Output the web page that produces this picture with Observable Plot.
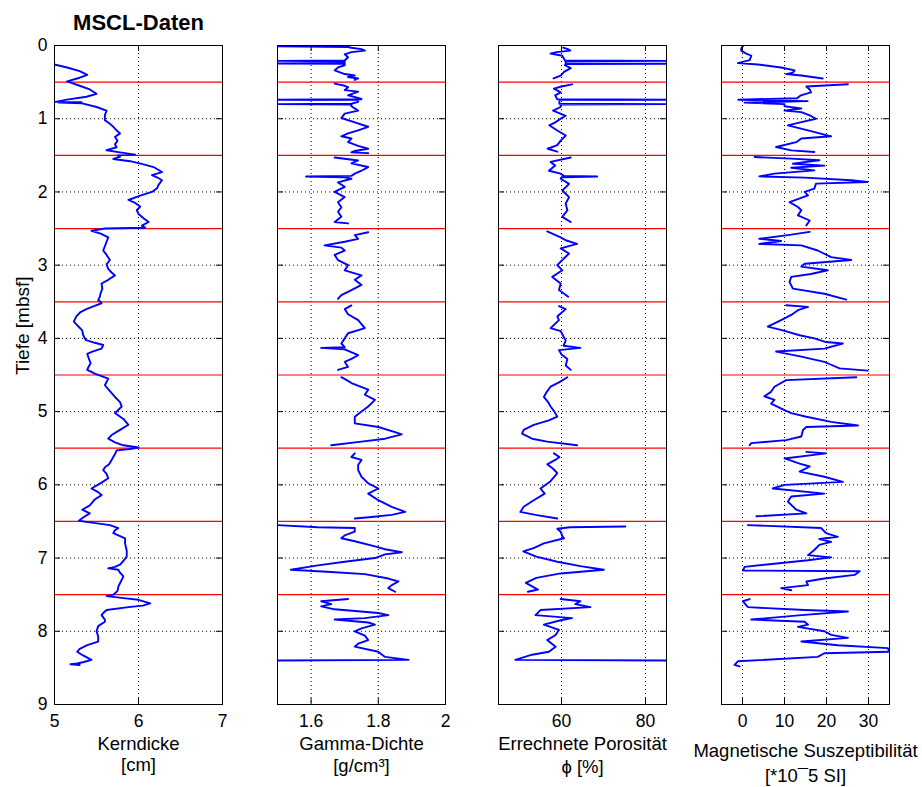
<!DOCTYPE html>
<html><head><meta charset="utf-8">
<script src="https://cdn.jsdelivr.net/npm/d3@7"></script>
<script src="https://cdn.jsdelivr.net/npm/@observablehq/plot@0.6"></script>
<style>
body{margin:0;background:#fff;overflow:hidden}
#chart{position:relative;width:922px;height:787px;font-family:"Liberation Sans",Arial,sans-serif}
#chart svg{position:absolute;top:0}
</style></head><body><div id="chart"></div>
<script>
// ---- data ----
const title = "MSCL-Daten";
const yLabel = "Tiefe [mbsf]";
const depthTicks = [0,1,2,3,4,5,6,7,8,9];
const depthGrid = [1,2,3,4,5,6,7,8];
const sectionBreaks = [0.5,1.5,2.5,3.5,4.5,5.5,6.5,7.5];

// [depth (mbsf), value]
const kerndicke = [[0.26,5.00],[0.30,5.15],[0.35,5.30],[0.40,5.39],[0.44,5.30],[0.49,5.15],[0.55,5.30],[0.60,5.42],[0.66,5.50],[0.70,5.38],[0.74,5.15],[0.77,5.01],[0.775,5.32],[0.78,5.05],[0.79,5.33],[0.84,5.50],[0.89,5.62],[0.95,5.60],[1.02,5.60],[1.07,5.66],[1.11,5.70],[1.16,5.74],[1.20,5.78],[1.25,5.72],[1.30,5.75],[1.35,5.72],[1.39,5.74],[1.43,5.62],[1.46,5.78],[1.49,5.96],[1.50,5.75],[1.52,5.78],[1.55,5.70],[1.58,5.90],[1.62,6.05],[1.66,6.18],[1.70,6.24],[1.73,6.28],[1.77,6.16],[1.80,6.22],[1.84,6.28],[1.90,6.24],[1.95,6.22],[2.00,6.16],[2.05,6.02],[2.11,5.88],[2.15,5.96],[2.20,6.02],[2.25,5.98],[2.30,6.00],[2.36,6.06],[2.41,6.12],[2.46,6.04],[2.49,6.08],[2.50,5.60],[2.53,5.44],[2.57,5.55],[2.62,5.64],[2.68,5.62],[2.74,5.60],[2.80,5.58],[2.86,5.62],[2.93,5.66],[2.99,5.62],[3.05,5.64],[3.10,5.68],[3.14,5.72],[3.20,5.64],[3.25,5.56],[3.32,5.57],[3.38,5.55],[3.43,5.54],[3.48,5.52],[3.50,5.55],[3.52,5.56],[3.56,5.47],[3.60,5.38],[3.64,5.31],[3.70,5.26],[3.77,5.23],[3.82,5.27],[3.89,5.33],[3.95,5.34],[4.02,5.37],[4.06,5.48],[4.09,5.58],[4.14,5.56],[4.18,5.45],[4.21,5.39],[4.28,5.41],[4.34,5.43],[4.40,5.40],[4.43,5.39],[4.48,5.48],[4.55,5.64],[4.64,5.60],[4.72,5.66],[4.80,5.72],[4.87,5.78],[4.93,5.80],[5.02,5.72],[5.10,5.82],[5.18,5.88],[5.25,5.78],[5.32,5.68],[5.37,5.64],[5.42,5.72],[5.46,5.82],[5.49,6.00],[5.51,5.90],[5.53,5.74],[5.58,5.72],[5.62,5.70],[5.66,5.68],[5.72,5.65],[5.76,5.60],[5.80,5.58],[5.85,5.62],[5.91,5.64],[5.97,5.56],[6.05,5.44],[6.10,5.52],[6.14,5.56],[6.20,5.48],[6.28,5.42],[6.34,5.33],[6.39,5.42],[6.44,5.35],[6.49,5.29],[6.51,5.40],[6.55,5.66],[6.59,5.76],[6.62,5.72],[6.66,5.70],[6.73,5.84],[6.80,5.84],[6.90,5.86],[6.98,5.86],[7.04,5.82],[7.09,5.78],[7.12,5.72],[7.14,5.64],[7.16,5.76],[7.20,5.78],[7.25,5.82],[7.32,5.79],[7.39,5.76],[7.45,5.75],[7.50,5.70],[7.52,5.62],[7.55,5.85],[7.57,6.00],[7.62,6.14],[7.65,6.05],[7.67,5.88],[7.71,5.62],[7.75,5.58],[7.78,5.56],[7.84,5.60],[7.87,5.60],[7.93,5.52],[8.00,5.50],[8.07,5.52],[8.14,5.52],[8.19,5.39],[8.24,5.30],[8.28,5.27],[8.33,5.34],[8.39,5.44],[8.42,5.35],[8.44,5.27],[8.45,5.19],[8.46,5.30]];

const gammaDichte = [[0.005,1.50],[0.012,1.50],[0.02,1.71],[0.03,1.72],[0.05,1.75],[0.07,1.76],[0.09,1.72],[0.12,1.70],[0.16,1.71],[0.205,1.70],[0.21,1.50],[0.215,1.70],[0.24,1.70],[0.245,1.50],[0.25,1.70],[0.27,1.70],[0.30,1.68],[0.34,1.67],[0.39,1.70],[0.41,1.73],[0.43,1.71],[0.45,1.74],[0.47,1.73],
[0.52,1.67],[0.55,1.70],[0.57,1.71],[0.61,1.70],[0.63,1.74],[0.68,1.71],[0.73,1.75],[0.735,1.75],[0.74,1.50],[0.745,1.74],[0.77,1.74],[0.795,1.72],[0.80,1.50],[0.805,1.72],[0.83,1.72],[0.89,1.74],[0.93,1.70],[0.99,1.69],[1.05,1.73],[1.11,1.77],[1.16,1.74],[1.20,1.71],[1.24,1.69],[1.27,1.72],[1.32,1.71],[1.37,1.74],[1.41,1.77],[1.44,1.73],[1.46,1.72],[1.47,1.77],
[1.53,1.67],[1.57,1.74],[1.61,1.72],[1.66,1.77],[1.71,1.75],[1.75,1.73],[1.78,1.72],[1.79,1.585],[1.80,1.70],[1.82,1.72],[1.87,1.68],[1.93,1.70],[2.00,1.67],[2.07,1.70],[2.14,1.68],[2.21,1.69],[2.27,1.68],[2.34,1.69],[2.41,1.67],[2.43,1.71],
[2.55,1.77],[2.59,1.73],[2.64,1.74],[2.68,1.70],[2.73,1.64],[2.76,1.69],[2.80,1.70],[2.86,1.67],[2.93,1.68],[3.00,1.71],[3.07,1.70],[3.14,1.75],[3.20,1.73],[3.27,1.75],[3.34,1.72],[3.41,1.69],[3.46,1.68],
[3.55,1.72],[3.60,1.70],[3.67,1.71],[3.75,1.74],[3.86,1.76],[3.93,1.71],[4.00,1.70],[4.07,1.69],[4.12,1.70],[4.13,1.63],[4.15,1.70],[4.23,1.74],[4.28,1.72],[4.32,1.70],[4.39,1.71],[4.43,1.68],
[4.53,1.69],[4.58,1.71],[4.61,1.72],[4.70,1.77],[4.77,1.76],[4.84,1.79],[4.93,1.77],[5.00,1.75],[5.07,1.73],[5.16,1.73],[5.21,1.80],[5.28,1.85],[5.31,1.87],[5.37,1.82],[5.41,1.75],[5.46,1.66],
[5.57,1.73],[5.62,1.72],[5.66,1.75],[5.73,1.74],[5.80,1.74],[5.89,1.75],[5.98,1.77],[6.05,1.80],[6.12,1.77],[6.21,1.80],[6.30,1.84],[6.37,1.88],[6.41,1.84],[6.44,1.78],[6.46,1.73],
[6.55,1.50],[6.58,1.62],[6.59,1.73],[6.64,1.73],[6.69,1.70],[6.73,1.69],[6.77,1.73],[6.84,1.79],[6.88,1.82],[6.92,1.87],[6.95,1.82],[7.00,1.79],[7.05,1.70],[7.10,1.62],[7.16,1.54],[7.19,1.66],[7.22,1.76],[7.28,1.83],[7.32,1.86],[7.37,1.84],[7.41,1.83],[7.46,1.85],
[7.56,1.71],[7.59,1.63],[7.63,1.66],[7.66,1.63],[7.70,1.67],[7.75,1.80],[7.78,1.83],[7.82,1.76],[7.84,1.67],[7.88,1.77],[7.91,1.79],[7.96,1.75],[8.00,1.73],[8.06,1.76],[8.12,1.77],[8.17,1.74],[8.21,1.73],[8.28,1.80],[8.35,1.82],[8.39,1.89],[8.40,1.50]];

const porositaet = [[0.03,60.4],[0.05,61.5],[0.07,62.1],[0.09,58.8],[0.11,57.4],[0.14,60.2],[0.18,60.6],[0.205,60.8],[0.21,85],[0.215,61.0],[0.245,61.0],[0.25,85],[0.255,61.0],[0.27,60.8],[0.31,62.2],[0.36,60.6],[0.41,59.8],[0.45,58.1],
[0.53,62.5],[0.56,60.0],[0.59,58.2],[0.64,59.8],[0.68,58.5],[0.735,59.0],[0.74,85],[0.745,59.5],[0.795,59.5],[0.80,85],[0.805,59.8],[0.84,59.8],[0.89,58.0],[0.96,61.0],[1.00,59.8],[1.05,58.5],[1.09,57.1],[1.16,59.0],[1.23,61.0],[1.30,59.8],[1.36,59.0],[1.41,56.7],[1.45,59.0],
[1.53,62.2],[1.59,57.4],[1.64,58.5],[1.71,57.0],[1.75,59.8],[1.78,60.5],[1.79,68.5],[1.80,60.0],[1.82,59.8],[1.89,61.8],[1.98,60.2],[2.07,61.8],[2.16,61.0],[2.25,61.4],[2.34,60.2],[2.41,62.2],
[2.54,56.6],[2.62,59.8],[2.66,61.0],[2.71,63.7],[2.77,59.8],[2.84,61.8],[2.93,60.2],[3.00,59.0],[3.07,60.2],[3.16,57.8],[3.25,59.8],[3.34,59.4],[3.43,61.6],
[3.56,59.4],[3.60,61.0],[3.64,60.2],[3.70,59.0],[3.75,59.4],[3.86,57.4],[3.90,59.8],[4.03,61.0],[4.10,60.5],[4.13,64.5],[4.16,59.4],[4.22,60.0],[4.28,61.4],[4.37,61.0],[4.43,62.2],
[4.53,61.4],[4.60,59.4],[4.66,57.4],[4.73,56.5],[4.80,55.8],[4.87,56.8],[4.93,57.4],[5.00,58.3],[5.07,59.0],[5.12,57.0],[5.18,53.4],[5.25,51.0],[5.30,50.6],[5.37,53.0],[5.41,56.6],[5.46,63.7],
[5.57,58.2],[5.62,59.5],[5.66,58.5],[5.72,56.6],[5.78,58.0],[5.84,59.0],[5.95,57.4],[6.05,55.0],[6.12,56.0],[6.21,53.4],[6.30,51.0],[6.37,50.2],[6.41,53.8],[6.46,59.0],
[6.57,75.2],[6.58,62.0],[6.60,59.0],[6.64,59.8],[6.70,60.2],[6.73,60.6],[6.80,55.8],[6.86,53.5],[6.91,50.9],[6.98,54.0],[7.05,59.0],[7.11,64.5],[7.16,70.1],[7.21,59.8],[7.27,54.0],[7.34,51.5],[7.43,54.4],[7.46,52.0],
[7.56,59.8],[7.59,64.5],[7.63,63.3],[7.67,66.9],[7.71,55.0],[7.78,53.8],[7.82,62.5],[7.85,59.8],[7.91,55.8],[7.98,59.4],[8.05,58.6],[8.12,56.6],[8.21,58.6],[8.28,57.0],[8.32,53.0],[8.39,49.0],[8.40,85]];

const suszeptibilitaet = [[0.01,0.1],[0.04,-0.3],[0.07,-0.3],[0.11,0.9],[0.14,2.1],[0.20,1.7],[0.24,-1.1],[0.26,3.7],[0.30,9.2],[0.34,12.4],[0.37,12.0],[0.39,10.4],[0.41,14.0],[0.45,19.1],
[0.53,25.1],[0.56,15.2],[0.60,16.0],[0.64,16.3],[0.68,13.9],[0.72,13.0],[0.74,-1.0],[0.76,15.5],[0.78,0.5],[0.80,10.0],[0.83,10.0],[0.86,14.0],[0.89,10.0],[0.91,14.0],[0.955,16.0],[1.00,17.5],[1.046,14.0],[1.09,10.8],[1.16,15.6],[1.24,21.1],[1.27,14.0],[1.32,12.8],[1.386,8.0],[1.432,11.6],[1.455,17.1],
[1.523,2.9],[1.545,11.6],[1.568,18.3],[1.614,12.0],[1.64,19.5],[1.67,11.6],[1.705,17.1],[1.75,7.6],[1.787,4.0],[1.805,14.8],[1.84,25.9],[1.864,29.8],[1.886,17.5],[1.955,17.1],[2.00,14.8],[2.046,15.6],[2.14,11.2],[2.205,13.2],[2.25,14.0],[2.32,13.2],[2.39,16.0],[2.456,15.2],
[2.546,16.0],[2.59,10.8],[2.64,4.0],[2.67,9.2],[2.71,4.0],[2.73,14.0],[2.80,17.9],[2.89,21.1],[2.93,25.9],[2.98,14.8],[3.02,14.0],[3.07,20.3],[3.12,16.3],[3.16,11.6],[3.23,11.2],[3.32,12.0],[3.39,19.5],[3.47,24.7],
[3.547,10.4],[3.57,15.6],[3.615,13.2],[3.68,11.6],[3.75,9.2],[3.84,6.0],[3.89,9.6],[3.957,13.6],[4.00,17.1],[4.05,19.9],[4.07,23.9],[4.14,19.5],[4.18,8.0],[4.25,14.0],[4.32,19.5],[4.36,21.1],[4.41,23.1],[4.44,29.8],
[4.53,27.1],[4.57,10.4],[4.66,7.6],[4.73,6.8],[4.79,5.2],[4.84,7.6],[4.89,6.8],[4.98,10.0],[5.02,11.6],[5.07,15.2],[5.14,21.1],[5.19,27.5],[5.21,15.2],[5.25,14.4],[5.34,14.0],[5.39,10.4],[5.43,2.1],[5.46,1.7],
[5.55,15.2],[5.57,19.9],[5.64,10.0],[5.71,13.6],[5.75,16.0],[5.82,13.6],[5.89,19.5],[5.96,23.9],[6.00,10.0],[6.05,7.2],[6.12,19.5],[6.16,11.6],[6.23,10.8],[6.34,12.8],[6.39,15.2],[6.43,3.3],
[6.55,1.3],[6.59,18.7],[6.66,19.9],[6.71,22.7],[6.74,18.3],[6.78,21.1],[6.82,18.3],[6.89,17.1],[6.96,15.6],[6.99,21.1],[7.03,15.6],[7.12,0.5],[7.17,0.1],[7.18,27.9],[7.23,26.7],[7.28,19.5],[7.32,15.2],[7.37,15.6],[7.41,9.2],[7.44,11.6],
[7.56,1.7],[7.59,0.1],[7.67,1.3],[7.71,14.8],[7.73,25.1],[7.78,14.0],[7.84,2.1],[7.87,14.8],[7.91,15.6],[7.94,13.2],[8.00,19.5],[8.05,21.1],[8.09,25.1],[8.14,14.0],[8.19,22.7],[8.23,34.6],[8.28,35.0],[8.30,19.5],[8.35,17.9],[8.41,-1.1],[8.46,-1.9],[8.48,-0.7]];

const panelNames = ["Kerndicke","Gamma-Dichte","Errechnete Porosität","Magnetische Suszeptibilität"];
const panelUnits = ["[cm]","[g/cm³]","ϕ [%]","[*10¯5 SI]"];
const panelDomains = [[5,7],[1.5,2.0],[45,85],[-5,35]];
const panelTicks = [[5,6,7],[1.6,1.8,2.0],[60,80],[0,10,20,30]];
const panelTickLabels = [["5","6","7"],["1.6","1.8","2"],["60","80"],["0","10","20","30"]];
const depthTickLabels = ["0","1","2","3","4","5","6","7","8","9"];
const panelSeries = [kerndicke, gammaDichte, porositaet, suszeptibilitaet];

// ---- layout ----
const frameLefts = [54, 277, 498, 721];
const frameW = 168, H = 787, mTop = 45, mBottom = 83;
const labelDy = [[32,53],[32,54],[32,55],[39,64]];
const chart = document.getElementById("chart");
const font = "'Liberation Sans', Arial, Helvetica, sans-serif";

panelSeries.forEach((series, i) => {
  const [x0, x1] = panelDomains[i];
  const ticks = panelTicks[i];
  const tx = (x1 - x0) * 6 / frameW;
  const ty = 9 * 6 / (H - mTop - mBottom);
  const mLeft = i === 0 ? 54 : 40;
  const mRight = i === 3 ? 33 : 40;
  const continuous = i === 0;
  const data = series.map(([d, v]) => ({d, v, s: Math.floor(d + 0.5)}));
  const marks = [
    Plot.ruleX(ticks.filter(t => t > x0 && t < x1), {stroke: "#000", strokeWidth: 1, strokeDasharray: "1,3"}),
    Plot.ruleY(depthGrid, {stroke: "#000", strokeWidth: 1, strokeDasharray: "1,3"}),
    Plot.ruleY(sectionBreaks, {stroke: "#ff0000", strokeWidth: 1.2}),
    Plot.line(data, {x: "v", y: "d", z: continuous ? null : "s", stroke: "#0000ff", strokeWidth: 1.9, clip: true, curve: "linear"}),
    Plot.ruleY(depthTicks, {x1: x0, x2: x0 + tx, stroke: "#000"}),
    Plot.ruleY(depthTicks, {x1: x1 - tx, x2: x1, stroke: "#000"}),
    Plot.ruleX(ticks, {y1: 0, y2: ty, stroke: "#000"}),
    Plot.ruleX(ticks, {y1: 9 - ty, y2: 9, stroke: "#000"}),
    Plot.frame({stroke: "#000", strokeWidth: 1}),
    Plot.axisX(ticks, {tickSize: 0, tickPadding: 10, fontSize: 17.5, label: null,
      tickFormat: t => panelTickLabels[i][ticks.indexOf(t)]}),
    Plot.text([panelNames[i]], {frameAnchor: "bottom", dy: labelDy[i][0], lineAnchor: "top", fontSize: 18.5}),
    Plot.text([panelUnits[i]], {frameAnchor: "bottom", dy: labelDy[i][1], lineAnchor: "top", fontSize: 18.5})
  ];
  if (i === 0) {
    marks.push(
      Plot.axisY(depthTicks, {tickSize: 0, tickPadding: 7, fontSize: 17.5, label: null,
        tickFormat: t => depthTickLabels[depthTicks.indexOf(t)]}),
      Plot.text([yLabel], {frameAnchor: "left", dx: -32, rotate: -90, fontSize: 19}),
      Plot.text([title], {frameAnchor: "top", dy: -31, lineAnchor: "top", fontSize: 22, fontWeight: "bold"})
    );
  }
  const svg = Plot.plot({
    width: mLeft + frameW + mRight,
    height: H,
    marginLeft: mLeft, marginRight: mRight, marginTop: mTop, marginBottom: mBottom,
    x: {domain: [x0, x1]},
    y: {domain: [0, 9], reverse: true, axis: i === 0 ? undefined : null},
    style: {fontFamily: font, background: "transparent", overflow: "visible", color: "#000"},
    marks
  });
  svg.style.left = (frameLefts[i] - mLeft) + "px";
  chart.appendChild(svg);
});
</script></body></html>
